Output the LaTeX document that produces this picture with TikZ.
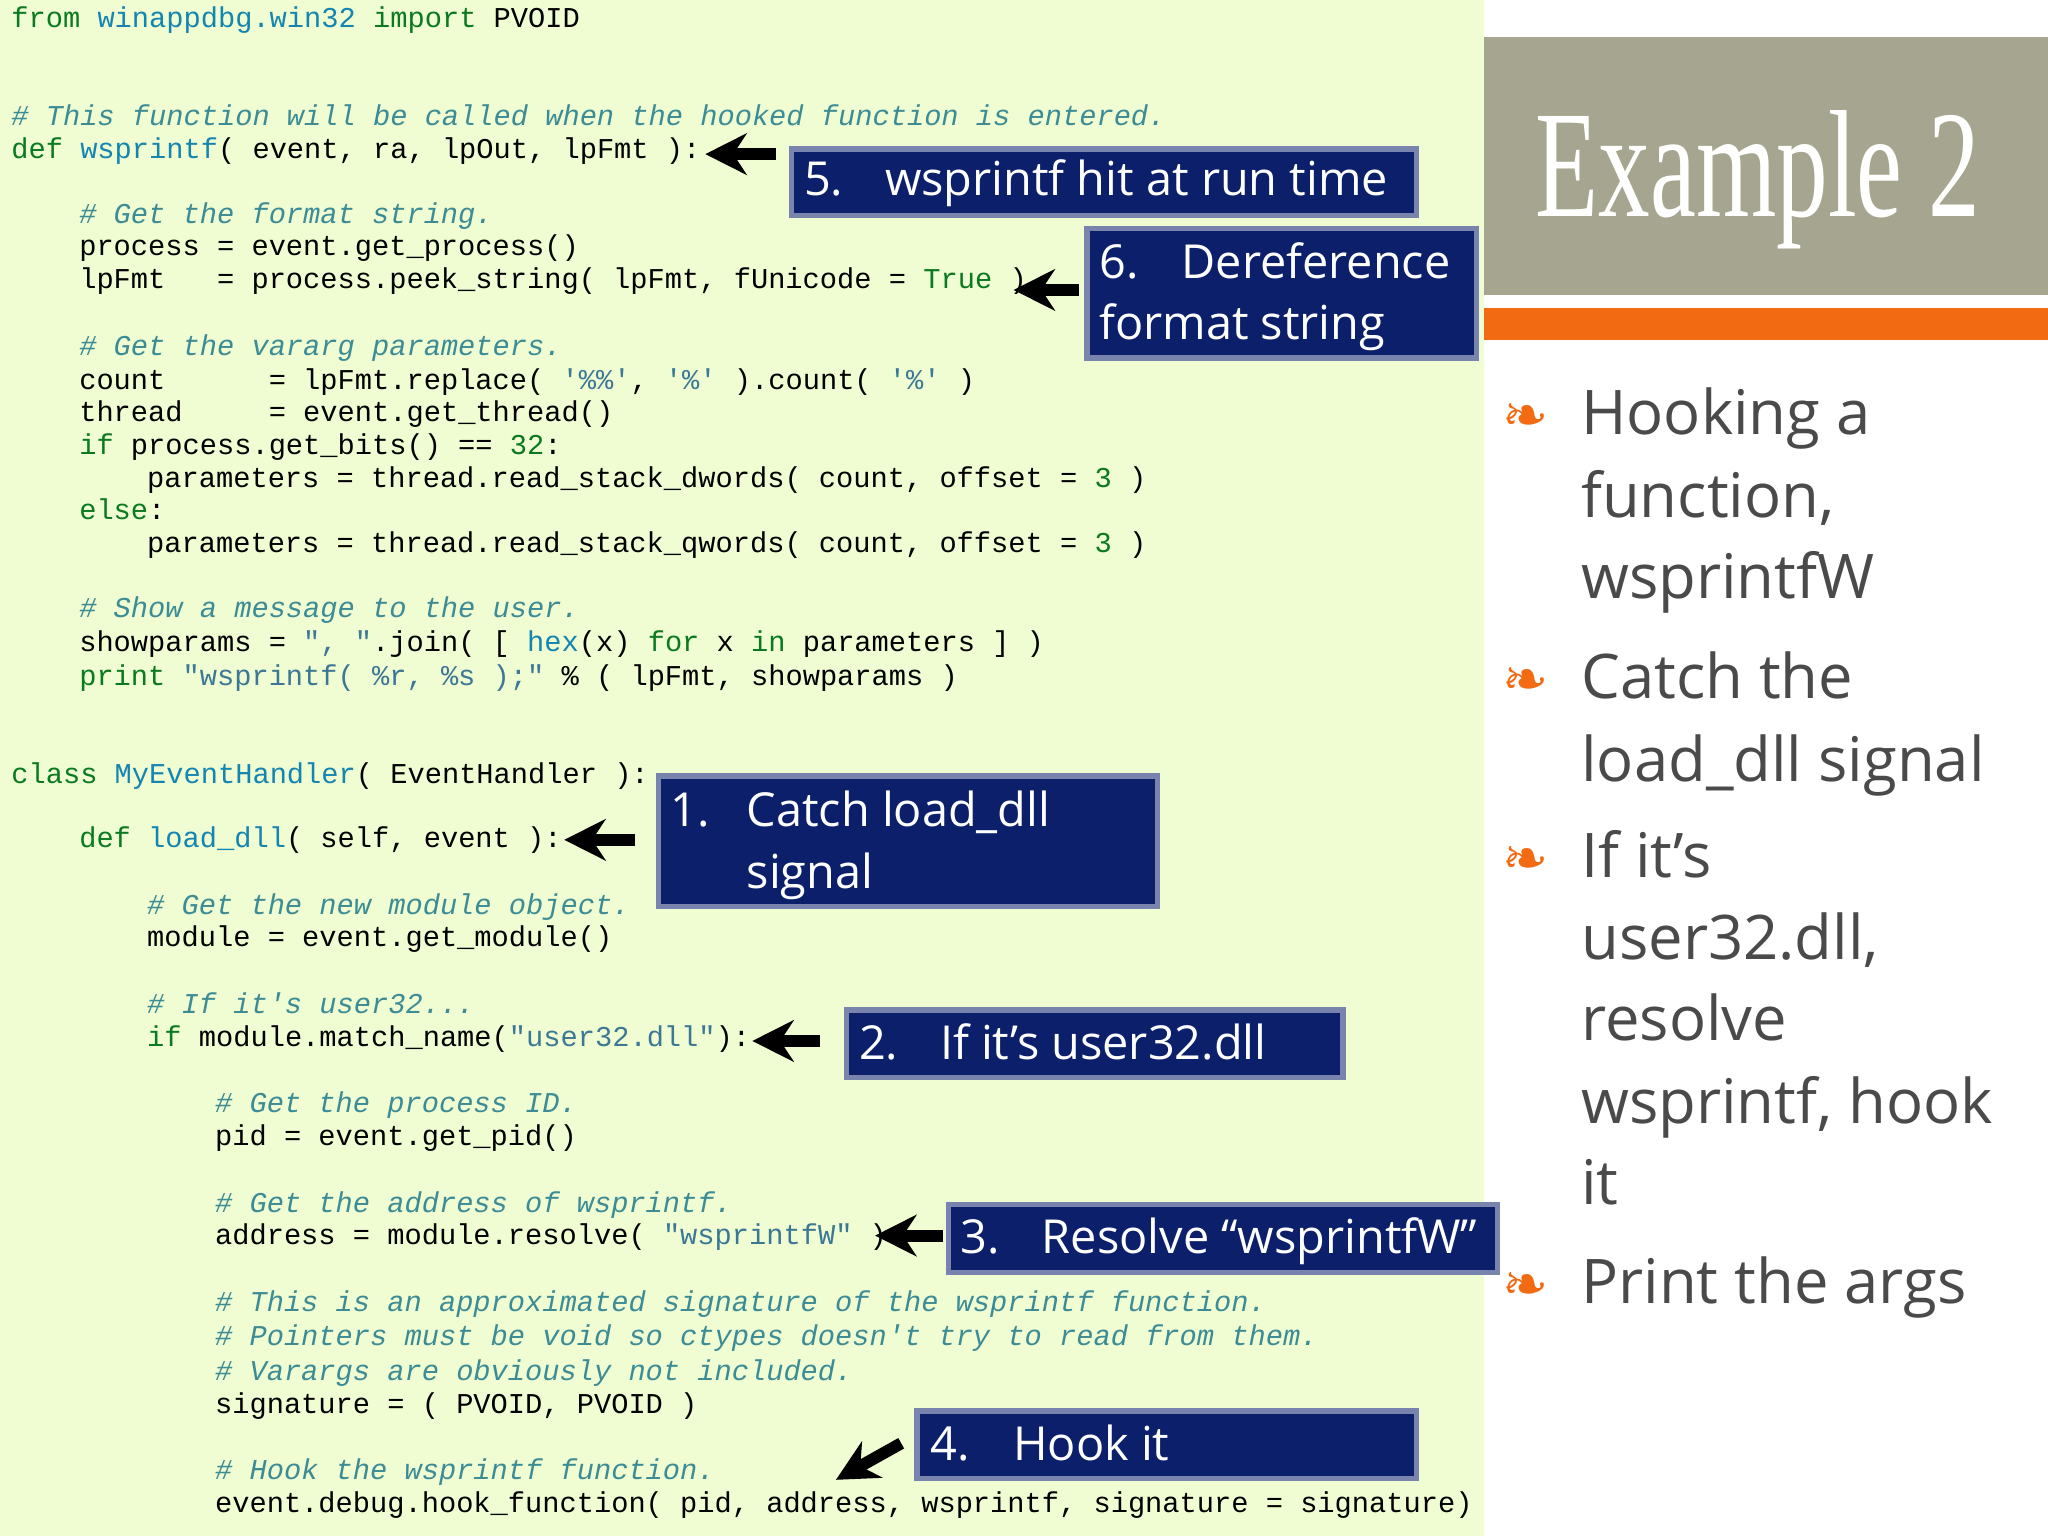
\documentclass[tikz,border=0pt]{standalone}
\usepackage{fontspec}
\setmainfont{Open Sans}
\setmonofont{Liberation Mono}
\newfontfamily\dejavu{DejaVu Sans}
\newfontfamily\serifT{Liberation Serif}
\usetikzlibrary{arrows.meta}
\definecolor{bgcode}{HTML}{F0FDD2}
\definecolor{navy}{HTML}{0C1F6B}
\definecolor{kwc}{HTML}{0A7A20}
\definecolor{fnc}{HTML}{1485B0}
\definecolor{cmc}{HTML}{3C8C96}
\definecolor{stc}{HTML}{3C7896}
\definecolor{banner}{HTML}{A6A690}
\definecolor{orangebar}{HTML}{F26A12}
\definecolor{bultxt}{HTML}{4A4A4A}
\newcommand\kw[1]{\textcolor{kwc}{#1}}
\newcommand\fn[1]{\textcolor{fnc}{#1}}
\newcommand\cm[1]{\textcolor{cmc}{\itshape #1}}
\newcommand\st[1]{\textcolor{stc}{#1}}
\newcommand\codeline[3]{\node[code] (c#2) at ({8+13*#1},#2) {#3};}
\begin{document}
\begin{tikzpicture}[x=0.01cm,y=-0.01cm,
  code/.style={anchor=base west,inner sep=0pt,font=\ttfamily\fontsize{6.25pt}{7pt}\selectfont},
  callout/.style={fill=navy,draw=navy!55!white,line width=1.2pt,inner sep=0pt,anchor=north west},
  ctext/.style={anchor=base west,inner sep=0pt,text=white,font=\fontsize{10.2pt}{12pt}\selectfont},
  arr/.style={-{Stealth[length=9pt,width=9pt]},line width=2.6pt,black},
  bul/.style={anchor=base west,inner sep=0pt,text=bultxt,font=\fontsize{13.4pt}{16pt}\selectfont},
  bsym/.style={anchor=base west,inner sep=0pt,text=orangebar,font=\dejavu\fontsize{12pt}{12pt}\selectfont}]
\useasboundingbox (0,0) rectangle (1568,1176);
\fill[white] (0,0) rectangle (1568,1176);
\fill[bgcode] (0,0) rectangle (1136,1176);
\fill[banner] (1136,28) rectangle (1568,226);
\fill[orangebar] (1136,236) rectangle (1568,260);
\node[inner sep=0pt,anchor=north west,text=white] (title) at (1175,84)
  {\resizebox*{3.4cm}{1.06cm}{\serifT Example 2}};

\codeline{0}{21}{\kw{from} \fn{winappdbg.win32} \kw{import} PVOID}
\codeline{0}{96}{\cm{\# This function will be called when the hooked function is entered.}}
\codeline{0}{121}{\kw{def} \fn{wsprintf}( event, ra, lpOut, lpFmt ):}
\codeline{4}{171}{\cm{\# Get the format string.}}
\codeline{4}{196}{process = event.get\_process()}
\codeline{4}{221}{lpFmt~~~= process.peek\_string( lpFmt, fUnicode = \kw{True} )}
\codeline{4}{272}{\cm{\# Get the vararg parameters.}}
\codeline{4}{298}{count~~~~~~= lpFmt.replace( \st{'\%\%'}, \st{'\%'} ).count( \st{'\%'} )}
\codeline{4}{323}{thread~~~~~= event.get\_thread()}
\codeline{4}{348}{\kw{if} process.get\_bits() == \kw{32}:}
\codeline{8}{373}{parameters = thread.read\_stack\_dwords( count, offset = \kw{3} )}
\codeline{4}{398}{\kw{else}:}
\codeline{8}{423}{parameters = thread.read\_stack\_qwords( count, offset = \kw{3} )}
\codeline{4}{473}{\cm{\# Show a message to the user.}}
\codeline{4}{499}{showparams = \st{", "}.join( [ \fn{hex}(x) \kw{for} x \kw{in} parameters ] )}
\codeline{4}{525}{\kw{print} \st{"wsprintf( \%r, \%s );"} \% ( lpFmt, showparams )}
\codeline{0}{600}{\kw{class} \fn{MyEventHandler}( EventHandler ):}
\codeline{4}{649}{\kw{def} \fn{load\_dll}( self, event ):}
\codeline{8}{700}{\cm{\# Get the new module object.}}
\codeline{8}{725}{module = event.get\_module()}
\codeline{8}{776}{\cm{\# If it's user32...}}
\codeline{8}{801}{\kw{if} module.match\_name(\st{"user32.dll"}):}
\codeline{12}{852}{\cm{\# Get the process ID.}}
\codeline{12}{877}{pid = event.get\_pid()}
\codeline{12}{928}{\cm{\# Get the address of wsprintf.}}
\codeline{12}{953}{address = module.resolve( \st{"wsprintfW"} )}
\codeline{12}{1004}{\cm{\# This is an approximated signature of the wsprintf function.}}
\codeline{12}{1030}{\cm{\# Pointers must be void so ctypes doesn't try to read from them.}}
\codeline{12}{1057}{\cm{\# Varargs are obviously not included.}}
\codeline{12}{1082}{signature = ( PVOID, PVOID )}
\codeline{12}{1133}{\cm{\# Hook the wsprintf function.}}
\codeline{12}{1158}{event.debug.hook\_function( pid, address, wsprintf, signature = signature)}

% callouts
\node[callout,minimum width=4.78cm,minimum height=0.51cm] (b5) at (604,112) {};
\node[ctext] at (615,150) {5.};
\node[ctext] at (677,150) {wsprintf hit at run time};
\node[callout,minimum width=2.98cm,minimum height=0.99cm] (b6) at (830,173) {};
\node[ctext] at (841,213) {6.};
\node[ctext] at (904,213) {Dereference};
\node[ctext] at (841,260) {format string};
\node[callout,minimum width=3.82cm,minimum height=1.0cm] (b1) at (502,592) {};
\node[ctext] at (513,633) {1.};
\node[ctext] at (571,633) {Catch load\_dll};
\node[ctext] at (571,680) {signal};
\node[callout,minimum width=3.8cm,minimum height=0.52cm] (b2) at (646,771) {};
\node[ctext] at (657,811) {2.};
\node[ctext] at (719,811) {If it’s user32.dll};
\node[callout,minimum width=4.2cm,minimum height=0.52cm] (b3) at (724,920) {};
\node[ctext] at (735,960) {3.};
\node[ctext] at (797,960) {Resolve “wsprintfW”};
\node[callout,minimum width=3.82cm,minimum height=0.52cm] (b4) at (700,1078) {};
\node[ctext] at (712,1118) {4.};
\node[ctext] at (775,1118) {Hook it};

\coordinate (t5) at (540,118);
\coordinate (t6) at (776,222);
\coordinate (t1) at (432,643);
\coordinate (t2) at (576,797);
\coordinate (t3) at (670,946);
\coordinate (t4) at (640,1133);
\coordinate (s5) at (594,118);
\coordinate (s6) at (826,222);
\coordinate (s1) at (486,643);
\coordinate (s2) at (628,797);
\coordinate (s3) at (722,946);
\coordinate (s4) at (690,1105);
\draw[arr] (s5) -- (t5);
\draw[arr] (s6) -- (t6);
\draw[arr] (s1) -- (t1);
\draw[arr] (s2) -- (t2);
\draw[arr] (s3) -- (t3);
\draw[arr] (s4) -- (t4);

% bullets
\node[bsym] at (1150,333) {❧};
\node[bul] at (1210,333) {Hooking a};
\node[bul] at (1210,396) {function,};
\node[bul] at (1210,458) {wsprintfW};
\node[bsym] at (1150,535) {❧};
\node[bul] at (1210,535) {Catch the};
\node[bul] at (1210,598) {load\_dll signal};
\node[bsym] at (1150,672) {❧};
\node[bul] at (1210,672) {If it’s};
\node[bul] at (1210,735) {user32.dll,};
\node[bul] at (1210,797) {resolve};
\node[bul] at (1210,860) {wsprintf, hook};
\node[bul] at (1210,922) {it};
\node[bsym] at (1150,998) {❧};
\node[bul] at (1210,998) {Print the args};
\end{tikzpicture}
\end{document}
